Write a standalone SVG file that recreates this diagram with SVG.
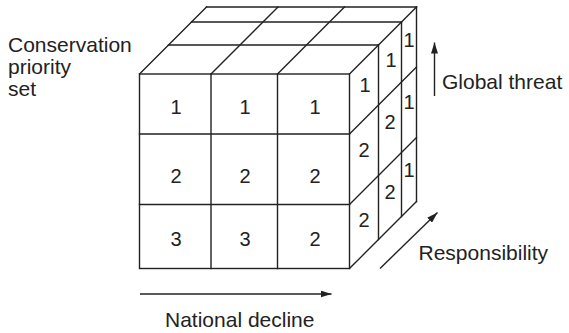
<svg xmlns="http://www.w3.org/2000/svg" width="569" height="333" viewBox="0 0 569 333">
<defs>
<style>
.ln{stroke:#222;stroke-width:1.4;fill:none;stroke-linecap:square}
.num{font-family:"Liberation Sans",Arial,sans-serif;font-size:20px;fill:#222;text-anchor:middle}
.lbl{font-family:"Liberation Sans",Arial,sans-serif;font-size:21px;fill:#222}
.ax{stroke:#222;stroke-width:1.4;fill:none}
</style>
<marker id="ah" viewBox="0 0 11 7" refX="11" refY="3.5" markerWidth="11" markerHeight="7" markerUnits="userSpaceOnUse" orient="auto">
<path d="M0,0 L11,3.5 L0,7 Z" fill="#222"/>
</marker>
</defs>
<rect width="569" height="333" fill="#fff"/>
<g id="cube">
<g id="front-face">
<rect class="ln" x="139.5" y="74" width="210" height="194.5"/>
<path class="ln" d="M211,74V268.5M277.5,74V268.5M139.5,134H349.5M139.5,204.5H349.5"/>
</g>
<g id="top-face">
<path class="ln" d="M168.5,45H378.5M191.5,22H401.5M206.5,7H416.5"/>
<path class="ln" d="M139.5,74L206.5,7M211,74L278,7M277.5,74L344.5,7M349.5,74L416.5,7"/>
</g>
<g id="right-face">
<path class="ln" d="M378.5,45V239.5M401.5,22V216.5M416.5,7V201.5"/>
<path class="ln" d="M349.5,134L416.5,67M349.5,204.5L416.5,137.5M349.5,268.5L416.5,201.5"/>
</g>
</g>
<g id="front-values">
<text class="num" x="176" y="114">1</text>
<text class="num" x="245" y="114">1</text>
<text class="num" x="315" y="114">1</text>
<text class="num" x="176" y="183">2</text>
<text class="num" x="245" y="183">2</text>
<text class="num" x="315" y="183">2</text>
<text class="num" x="176" y="246">3</text>
<text class="num" x="245" y="246">3</text>
<text class="num" x="315" y="246">2</text>
</g>
<g id="side-values">
<text class="num" x="365" y="92">1</text>
<text class="num" x="391" y="67">1</text>
<text class="num" x="409" y="47">1</text>
<text class="num" x="364" y="157">2</text>
<text class="num" x="390" y="128.5">2</text>
<text class="num" x="409" y="108.5">1</text>
<text class="num" x="364" y="227">2</text>
<text class="num" x="390" y="198.5">2</text>
<text class="num" x="409" y="177">1</text>
</g>
<g id="connectors">
<line class="ax" x1="140" y1="294" x2="331.5" y2="294" marker-end="url(#ah)"/>
<line class="ax" x1="434.5" y1="96" x2="434.5" y2="42.5" marker-end="url(#ah)"/>
<line class="ax" x1="380" y1="268.5" x2="437.5" y2="212.5" marker-end="url(#ah)"/>
</g>
<g id="label-priority">
<text class="lbl" x="8" y="52">Conservation</text>
<text class="lbl" x="8" y="74">priority</text>
<text class="lbl" x="8" y="96">set</text>
</g>
<g id="label-global"><text class="lbl" x="442" y="88.5">Global threat</text></g>
<g id="label-resp"><text class="lbl" x="418.5" y="260">Responsibility</text></g>
<g id="label-national"><text class="lbl" x="165" y="326.5">National decline</text></g>
</svg>
